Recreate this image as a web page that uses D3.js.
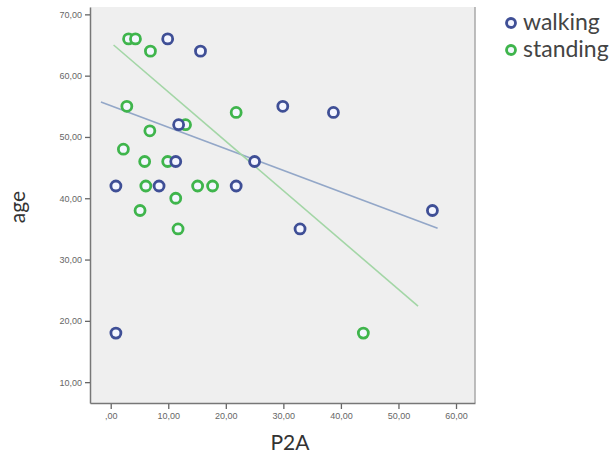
<!DOCTYPE html>
<html>
<head>
<meta charset="utf-8">
<script src="https://cdn.jsdelivr.net/npm/d3@7"></script>
<style>
  body { margin: 0; background: #fff; overflow: hidden; }
  svg { display: block; }
</style>
</head>
<body>
<script>
// P2A vs age, per group
var walkingP2A = [9.9, 15.6, 29.9, 38.7, 11.8, 25.0, 11.3, 0.9, 8.4, 21.8, 32.9, 55.9, 0.9];
var walkingAge = [66, 64, 55, 54, 52, 46, 46, 42, 42, 42, 35, 38, 18];
var standingP2A = [3.1, 4.3, 6.9, 2.8, 21.8, 13.0, 6.8, 2.2, 5.9, 9.9, 6.1, 15.1, 17.7, 11.3, 5.1, 11.7, 43.9];
var standingAge = [66, 66, 64, 55, 54, 52, 51, 48, 46, 46, 42, 42, 42, 40, 38, 35, 18];

// fit line end points [P2A, age]
var walkingFit = [[-1.7, 55.7], [56.8, 35.1]];
var standingFit = [[0.5, 65.0], [53.4, 22.4]];

var xTicks = [0, 10, 20, 30, 40, 50, 60];
var yTicks = [10, 20, 30, 40, 50, 60, 70];
var groups = ["walking", "standing"];

(function () {
  var W = 616, H = 456;
  var left = 90, right = 475, top = 7, bottom = 403;

  var colors = { walking: "#3f4f96", standing: "#3fb54c" };
  var lineColors = { walking: "#93a7c8", standing: "#a3d6a6" };

  var x = d3.scaleLinear().domain([-3.6, 63.3]).range([left, right]);
  var y = d3.scaleLinear().domain([6.6, 71.2]).range([bottom, top]);

  var fmt = function (d) {
    return d === 0 ? ",00" : d.toFixed(2).replace(".", ",");
  };

  var svg = d3.select("body").append("svg")
    .attr("width", W)
    .attr("height", H);

  // plot background
  svg.append("rect")
    .attr("x", left)
    .attr("y", top)
    .attr("width", right - left)
    .attr("height", bottom - top)
    .attr("fill", "#efefef");

  svg.append("line")
    .attr("x1", right).attr("x2", right)
    .attr("y1", top).attr("y2", bottom)
    .attr("stroke", "#a8a8a8")
    .attr("stroke-width", 1.5);

  // axes
  var yAxis = svg.append("g")
    .attr("transform", "translate(" + left + ",0)")
    .call(d3.axisLeft(y).tickValues(yTicks).tickFormat(fmt).tickSize(5).tickSizeOuter(0).tickPadding(3));

  var xAxis = svg.append("g")
    .attr("transform", "translate(0," + bottom + ")")
    .call(d3.axisBottom(x).tickValues(xTicks).tickFormat(fmt).tickSize(6).tickSizeOuter(0).tickPadding(4));

  [yAxis, xAxis].forEach(function (g) {
    g.select(".domain").attr("stroke", "#777").attr("stroke-width", 1.5);
    g.selectAll(".tick line").attr("stroke", "#666").attr("stroke-width", 1.3);
    g.selectAll(".tick text")
      .attr("fill", "#666")
      .style("font-family", "'Liberation Sans', Arial, sans-serif")
      .style("font-size", "9px");
  });
  xAxis.selectAll(".tick line").attr("y1", 1);

  // fit lines
  var line = d3.line()
    .x(function (d) { return x(d[0]); })
    .y(function (d) { return y(d[1]); });

  svg.append("path")
    .datum(walkingFit)
    .attr("d", line)
    .attr("fill", "none")
    .attr("stroke", lineColors.walking)
    .attr("stroke-width", 1.6);

  svg.append("path")
    .datum(standingFit)
    .attr("d", line)
    .attr("fill", "none")
    .attr("stroke", lineColors.standing)
    .attr("stroke-width", 1.6);

  // points
  var pts = [];
  standingP2A.forEach(function (v, i) { pts.push({ g: "standing", x: v, y: standingAge[i] }); });
  walkingP2A.forEach(function (v, i) { pts.push({ g: "walking", x: v, y: walkingAge[i] }); });

  svg.selectAll("circle.pt")
    .data(pts)
  .enter()
    .append("circle")
    .attr("class", "pt")
    .attr("cx", function (d) { return x(d.x); })
    .attr("cy", function (d) { return y(d.y); })
    .attr("r", 5)
    .attr("fill", "#f4f6ff")
    .attr("stroke", function (d) { return colors[d.g]; })
    .attr("stroke-width", 2.8);

  // legend
  var leg = svg.selectAll("g.leg")
    .data(groups)
  .enter()
    .append("g")
    .attr("class", "leg")
    .attr("transform", function (d, i) { return "translate(511," + (23 + i * 27) + ")"; });

  leg.append("circle")
    .attr("r", 4.5)
    .attr("fill", "#f4f6ff")
    .attr("stroke", function (d) { return colors[d]; })
    .attr("stroke-width", 2.8);

  leg.append("text")
    .attr("x", 12)
    .attr("y", 7)
    .text(function (d) { return d; })
    .attr("fill", "#444")
    .style("font-family", "Lato, 'Open Sans', sans-serif")
    .style("font-size", "23px");

  // axis titles
  svg.append("text")
    .attr("x", 290)
    .attr("y", 450)
    .attr("text-anchor", "middle")
    .attr("fill", "#333")
    .style("font-family", "Lato, 'Open Sans', sans-serif")
    .style("font-size", "21px")
    .text("P2A");

  svg.append("text")
    .attr("transform", "translate(25,207) rotate(-90)")
    .attr("text-anchor", "middle")
    .attr("fill", "#333")
    .style("font-family", "Lato, 'Open Sans', sans-serif")
    .style("font-size", "21px")
    .text("age");
})();
</script>
</body>
</html>
